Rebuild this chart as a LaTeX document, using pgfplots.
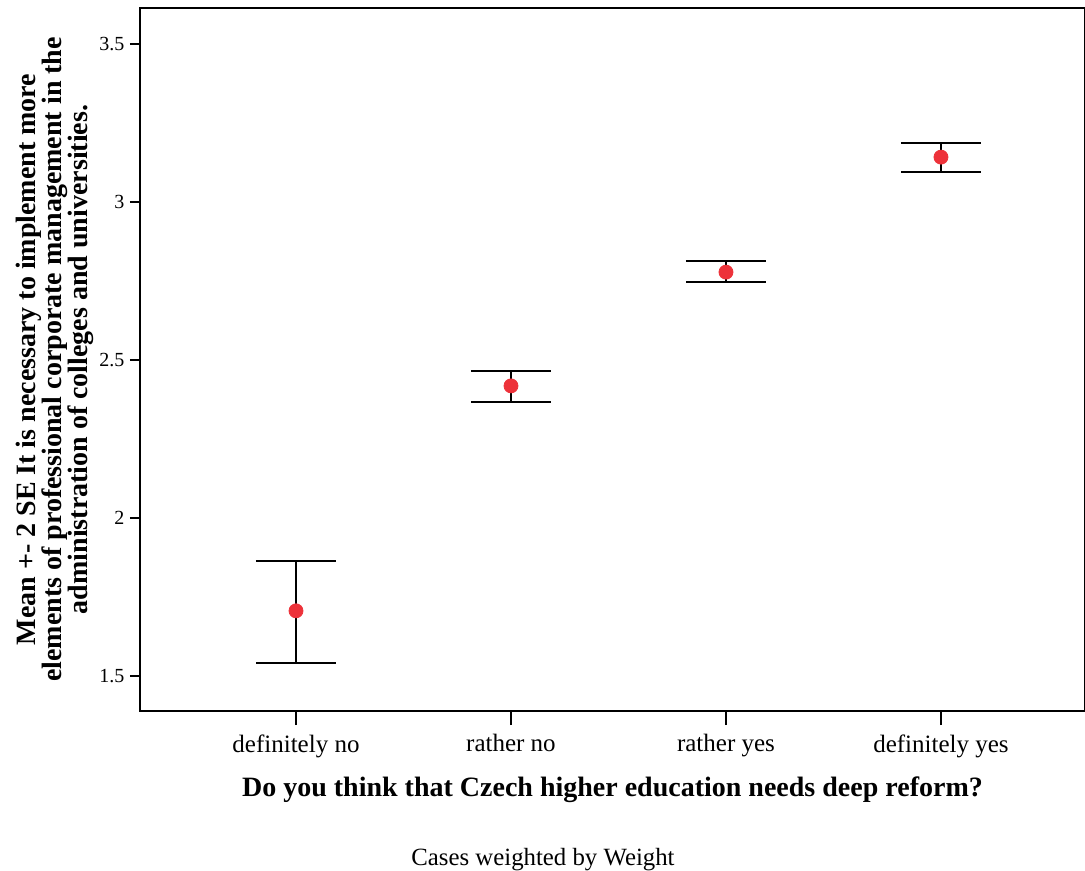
\documentclass[border=0pt]{standalone}
\usepackage{fontspec}
\setmainfont{Liberation Serif}
\usepackage{pgfplots}
\pgfplotsset{compat=1.18}
\usepackage{pgfplotstable}
\definecolor{dotred}{RGB}{237,50,58}
\pgfplotstableread{
x y ep em
0 1.706 0.158 0.165
1 2.418 0.047 0.051
2 2.778 0.035 0.031
3 3.142 0.045 0.047
}\datatable
\begin{document}
\begin{tikzpicture}
\begin{axis}[
  at={(0,0)}, anchor=south west,
  scale only axis,
  width=472.5pt, height=351.5pt,
  xmin=-0.7256, xmax=3.670,
  ymin=1.389, ymax=3.614,
  axis line style={line width=1pt},
  xtick pos=bottom, ytick pos=left,
  xtick={0,1,2,3},
  xticklabels={definitely no, rather no, rather yes, definitely yes},
  ytick={1.5,2,2.5,3,3.5},
  yticklabels={1.5,2,2.5,3,3.5},
  tick align=outside,
  xtick style={black, line width=0.8pt, /pgfplots/major tick length=7pt},
  ytick style={black, line width=0.8pt, /pgfplots/major tick length=5pt},
  x tick label style={font=\fontsize{12.5}{14}\selectfont, yshift=-4pt},
  y tick label style={font=\fontsize{10}{12}\selectfont},
  xlabel={Do you think that Czech higher education needs deep reform?},
  xlabel style={font=\fontsize{14}{16}\selectfont\bfseries, yshift=-2.5pt},
  ylabel={\fontsize{14}{13}\selectfont\bfseries Mean +- 2 SE It is necessary to implement more\\elements of professional corporate management in the\\administration of colleges and universities.},
  ylabel style={font=\fontsize{14}{13}\selectfont\bfseries, align=center, yshift=-4pt},
  clip=false,
]
\addplot[only marks, mark=*, mark size=3.5pt, mark options={dotred, draw=dotred},
  error bars/.cd, y dir=both, y explicit,
  error bar style={black, line width=1pt},
  error mark options={black, line width=1pt, mark size=20pt, rotate=90}]
  table[x=x, y=y, y error plus=ep, y error minus=em] {\datatable};
\end{axis}
\node[font=\fontsize{12.4}{14}\selectfont] at (201.5pt,-74.5pt) {Cases weighted by Weight};
\pgfresetboundingbox
\path[use as bounding box] (-70pt,-80pt) rectangle (472.5pt,355.5pt);
\end{tikzpicture}
\end{document}
